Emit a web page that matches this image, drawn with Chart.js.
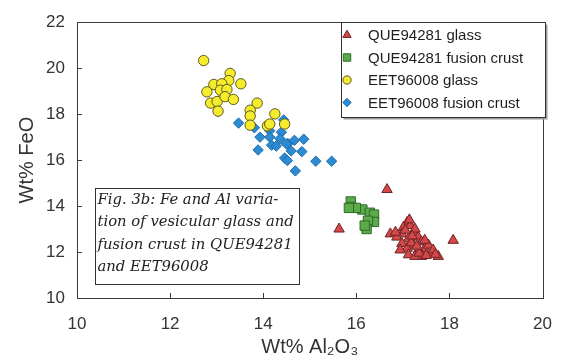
<!DOCTYPE html>
<html>
<head>
<meta charset="utf-8">
<script src="https://cdn.jsdelivr.net/npm/chart.js@4.4.1/dist/chart.umd.min.js"></script>
<style>
  html, body { margin: 0; padding: 0; background: #ffffff; }
  #wrap { width: 568px; height: 360px; }
</style>
</head>
<body>
<div id="wrap"><canvas id="c" width="568" height="360"></canvas></div>
<script>
// Series labels
const seriesNames = ['QUE94281 glass', 'QUE94281 fusion crust', 'EET96008 glass', 'EET96008 fusion crust'];

// QUE94281 glass (wt% Al2O3, wt% FeO)
const queGlassAl = [16.66, 15.63, 18.08, 17.09, 17.16, 17.01, 17.23, 16.98, 16.73, 16.87, 17.12, 17.33, 17.40,
  17.23, 16.98, 17.09, 17.47, 17.33, 17.62, 17.12, 17.40, 17.76, 17.26, 17.55, 16.94, 16.84, 17.26, 17.47,
  17.65, 17.05, 17.18, 17.35, 17.50, 17.20, 17.70, 17.14, 17.30];
const queGlassFe = [14.72, 13.00, 12.51, 13.28, 13.15, 13.07, 12.86, 12.79, 12.79, 12.65, 12.58, 12.65, 12.44,
  12.30, 12.37, 12.16, 12.16, 12.09, 11.95, 11.88, 11.81, 11.81, 11.81, 12.30, 12.09, 12.86, 13.00, 12.51,
  12.09, 12.95, 12.40, 11.95, 11.85, 12.70, 11.90, 13.40, 12.25];

// QUE94281 fusion crust
const queCrustAl = [15.88, 15.89, 16.13, 16.29, 16.38, 16.38, 16.25, 16.22, 16.18, 15.99, 15.84];
const queCrustFe = [14.20, 13.96, 13.85, 13.71, 13.63, 13.31, 13.36, 13.00, 13.15, 13.92, 13.92];

// EET96008 glass
const eetGlassAl = [12.72, 13.29, 13.26, 12.94, 13.11, 13.52, 12.79, 13.08, 13.22, 12.87, 13.01, 13.18, 13.36,
  13.03, 13.87, 13.72, 13.72, 14.25, 13.72, 14.09, 14.14, 14.46];
const eetGlassFe = [20.33, 19.77, 19.46, 19.29, 19.32, 19.32, 18.97, 19.04, 19.07, 18.48, 18.55, 18.76, 18.64,
  18.13, 18.48, 18.17, 17.92, 18.01, 17.52, 17.49, 17.57, 17.57];

// EET96008 fusion crust
const eetCrustAl = [13.47, 13.81, 14.44, 13.93, 14.14, 14.39, 14.14, 14.36, 14.53, 14.67, 14.87, 13.89, 14.18,
  14.28, 14.60, 14.83, 14.46, 14.52, 15.13, 15.47, 14.69, 14.50];
const eetCrustFe = [17.61, 17.41, 17.75, 17.00, 17.28, 17.21, 17.00, 16.93, 16.72, 16.86, 16.91, 16.44, 16.65,
  16.61, 16.40, 16.37, 16.09, 15.98, 15.95, 15.95, 15.53, 16.70];

// Axis ranges and tick step
const xRange = [10, 20];
const yRange = [10, 22];
const tickStep = 2;

// Caption text block
const captionLines = ['Fig. 3b: Fe and Al varia-', 'tion of vesicular glass and', 'fusion crust in QUE94281', 'and EET96008'];

const pairs = (xs, ys) => xs.map((x, i) => ({ x: x, y: ys[i] }));

const SANS = '"Liberation Sans", Arial, sans-serif';

const styles = [
  { pointStyle: 'triangle', radius: 6.0, fill: '#d4484a', stroke: '#6e2424' },
  { pointStyle: 'rect', radius: 6.6, fill: '#5cab49', stroke: '#2f6a2b' },
  { pointStyle: 'circle', radius: 5.2, fill: '#f4ec2c', stroke: '#5f5a1a' },
  { pointStyle: 'rectRot', radius: 5.2, fill: '#2b8bd3', stroke: '#1f6aa8' }
];

const seriesData = [
  pairs(queGlassAl, queGlassFe),
  pairs(queCrustAl, queCrustFe),
  pairs(eetGlassAl, eetGlassFe),
  pairs(eetCrustAl, eetCrustFe)
];

// Frame around the plot plus inward tick marks
const framePlugin = {
  id: 'frame',
  afterDraw(chart) {
    const { ctx, chartArea: a, scales } = chart;
    ctx.save();
    ctx.strokeStyle = '#3a3a3a';
    ctx.lineWidth = 1;
    ctx.strokeRect(Math.round(a.left) + 0.5, Math.round(a.top) + 0.5,
      Math.round(a.right - a.left), Math.round(a.bottom - a.top));
    ctx.beginPath();
    scales.x.ticks.forEach(t => {
      const px = Math.round(scales.x.getPixelForValue(t.value)) + 0.5;
      ctx.moveTo(px, a.bottom);
      ctx.lineTo(px, a.bottom - 5);
    });
    scales.y.ticks.forEach(t => {
      const py = Math.round(scales.y.getPixelForValue(t.value)) + 0.5;
      ctx.moveTo(a.left, py);
      ctx.lineTo(a.left + 5, py);
    });
    ctx.stroke();
    ctx.restore();
  }
};

// Boxed legend in the upper right and caption box in the lower left
const boxesPlugin = {
  id: 'boxes',
  afterDraw(chart) {
    const { ctx } = chart;
    ctx.save();

    // legend box
    const lx = 341.5, ly = 22.5, lw = 204, lh = 95;
    ctx.fillStyle = '#9a9a9a';
    ctx.fillRect(lx + 2, ly + 2, lw, lh);
    ctx.fillStyle = '#ffffff';
    ctx.fillRect(lx, ly, lw, lh);
    ctx.strokeStyle = '#333333';
    ctx.lineWidth = 1;
    ctx.strokeRect(lx, ly, lw, lh);

    ctx.font = '15px ' + SANS;
    ctx.textBaseline = 'middle';
    ctx.textAlign = 'left';
    seriesNames.forEach((name, i) => {
      const cy = 35 + i * 22.5;
      const s = styles[i];
      ctx.fillStyle = s.fill;
      ctx.strokeStyle = s.stroke;
      ctx.lineWidth = 1;
      Chart.helpers.drawPoint(ctx, { pointStyle: s.pointStyle, radius: s.radius * 0.8, borderWidth: 1, rotation: 0 }, 347, cy);
      ctx.fillStyle = '#1e1e1e';
      ctx.fillText(name, 368, cy + 1);
    });

    // caption box
    const cx = 95.5, cy0 = 188.5, cw = 204, ch = 96;
    ctx.fillStyle = '#ffffff';
    ctx.fillRect(cx, cy0, cw, ch);
    ctx.strokeStyle = '#333333';
    ctx.strokeRect(cx, cy0, cw, ch);
    ctx.fillStyle = '#222222';
    ctx.font = 'italic 14.8px "DejaVu Serif", serif';
    ctx.textBaseline = 'middle';
    captionLines.forEach((line, i) => {
      ctx.fillText(line, 97.5, 200 + i * 22.5);
    });

    ctx.restore();
  }
};

new Chart(document.getElementById('c'), {
  type: 'scatter',
  data: {
    datasets: seriesNames.map((name, i) => ({
      label: name,
      data: seriesData[i],
      pointStyle: styles[i].pointStyle,
      pointRadius: styles[i].radius,
      pointHoverRadius: styles[i].radius,
      backgroundColor: styles[i].fill,
      borderColor: styles[i].stroke,
      pointBorderWidth: 1
    }))
  },
  options: {
    responsive: false,
    animation: false,
    devicePixelRatio: 1,
    layout: { padding: { top: 13, right: 21, left: 0, bottom: 0 } },
    plugins: {
      legend: { display: false },
      tooltip: { enabled: false }
    },
    scales: {
      x: {
        type: 'linear',
        min: xRange[0],
        max: xRange[1],
        ticks: { stepSize: tickStep, padding: 16, color: '#333333', font: { family: SANS, size: 17 } },
        grid: { drawOnChartArea: false, drawTicks: false },
        border: { display: false },
        title: { display: true, text: 'Wt% Al₂O₃', color: '#333333', font: { family: SANS, size: 20 }, padding: { top: 0, bottom: 1 } },
        afterFit(scale) { scale.height = 62; }
      },
      y: {
        type: 'linear',
        min: yRange[0],
        max: yRange[1],
        ticks: { stepSize: tickStep, padding: 12, color: '#333333', font: { family: SANS, size: 17 } },
        grid: { drawOnChartArea: false, drawTicks: false },
        border: { display: false },
        title: { display: true, text: 'Wt% FeO', color: '#333333', font: { family: SANS, size: 20 }, padding: { top: 15, bottom: 0 } },
        afterFit(scale) { scale.width = 77; }
      }
    }
  },
  plugins: [framePlugin, boxesPlugin]
});
</script>
</body>
</html>
